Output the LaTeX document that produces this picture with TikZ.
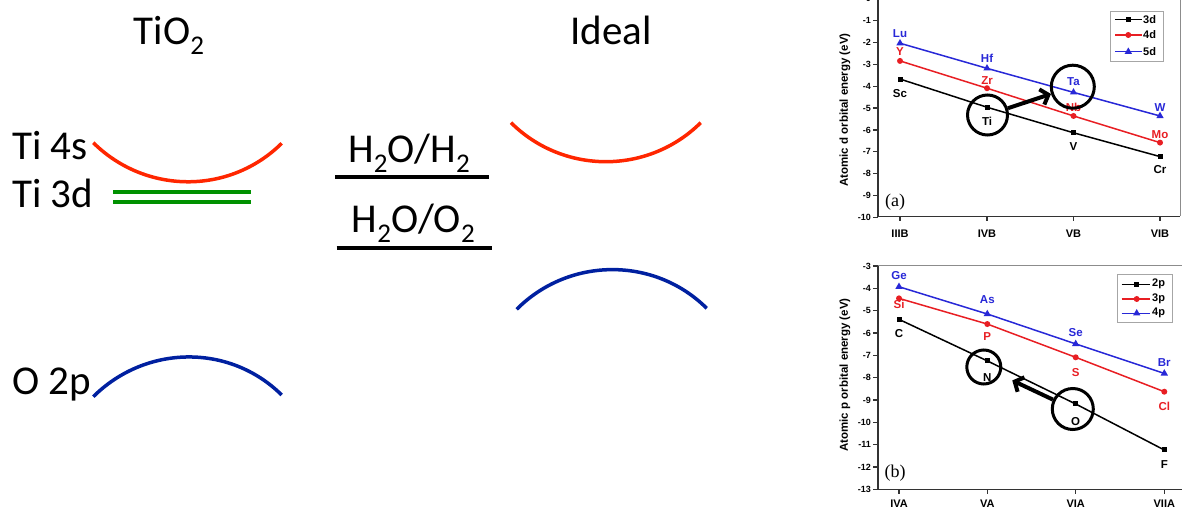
\documentclass[tikz,border=0pt]{standalone}
\usepackage{fontspec}
\setmainfont{Carlito}
\newfontfamily\plotfont{Liberation Sans}
\newfontfamily\plotserif{Liberation Serif}
\usepackage{tikz}
\usetikzlibrary{arrows.meta,positioning,calc,shapes.geometric}
\definecolor{bandred}{RGB}{255,38,0}
\definecolor{bandblue}{RGB}{0,32,160}
\definecolor{bandgreen}{RGB}{0,145,0}
\definecolor{ptred}{RGB}{232,30,35}
\definecolor{ptblue}{RGB}{40,40,215}
\newcommand{\dn}[1]{\raisebox{-10pt}{\fontsize{27}{27}\selectfont #1}}

\begin{document}
\begin{tikzpicture}[x=1pt,y=-1pt,
  big/.style={font=\fontsize{41}{48}\selectfont,inner sep=0pt},
  band/.style={line width=3.5pt},
  redox/.style={line width=4pt,black},
  axl/.style={line width=1.3pt,black!80},
  tlab/.style={font=\plotfont\bfseries\fontsize{9}{10}\selectfont,inner sep=0pt,anchor=east},
  catl/.style={font=\plotfont\bfseries\fontsize{11}{12}\selectfont,inner sep=0pt},
  ylab/.style={font=\plotfont\bfseries\fontsize{11.5}{13}\selectfont,inner sep=0pt,rotate=90},
  elab/.style={font=\plotfont\bfseries\fontsize{11.5}{13}\selectfont,inner sep=0pt},
  legt/.style={font=\plotfont\bfseries\fontsize{11}{12}\selectfont,inner sep=0pt,anchor=west},
  pan/.style={font=\plotserif\fontsize{18}{20}\selectfont,inner sep=0pt},
  sqm/.style={rectangle,fill=black,inner sep=0pt,minimum size=5pt},
  cim/.style={circle,fill=ptred,inner sep=0pt,minimum size=6pt},
  trm/.style={regular polygon,regular polygon sides=3,fill=ptblue,inner sep=0pt,minimum size=8.5pt},
  ring/.style={circle,draw,line width=3pt,inner sep=0pt},
  fat/.style={line width=4pt,-{Straight Barb[length=7pt,width=16pt]}},
  ser/.style={line width=1.5pt}]
  \useasboundingbox (0,0) rectangle (1182,510);

  % energy levels
  \node[big,anchor=base] (tio) at (169,45) {TiO\dn{2}};
  \node[big,anchor=base] (ideal) at (611,45) {Ideal};
  \node[big,anchor=base west] (ti4s) at (12,159.3) {Ti 4s};
  \node[big,anchor=base west] (ti3d) at (12,208) {Ti 3d};
  \node[big,anchor=base west] (o2p) at (12,394.3) {O 2p};
  \node[big,anchor=base] (hh) at (409,162.3) {H\dn{2}O/H\dn{2}};
  \node[big,anchor=base] (ho) at (413.3,232.7) {H\dn{2}O/O\dn{2}};
  \draw[redox] (335,176.7) -- (489.3,176.7);
  \draw[redox] (336.7,247.7) -- (491.7,247.7);
  \draw[band,bandred] (93.3,142.7) .. controls (145.5,194.4) and (229.5,195) .. (281.7,143.3);
  \draw[band,bandblue] (93.3,396.7) .. controls (145.5,344.7) and (229.5,343.3) .. (281.7,395);
  \draw[band,bandgreen,line width=4pt] (113.3,191.7) -- (250.7,191.7);
  \draw[band,bandgreen,line width=4pt] (113.3,201.7) -- (250.7,201.7);
  \draw[band,bandred] (511,122.7) .. controls (563.5,174.7) and (648.2,174.7) .. (700.7,122.7);
  \draw[band,bandblue] (516.7,309.3) .. controls (569,256.8) and (654.4,256.3) .. (706.7,308.3);

  % panel (a): d orbitals
  \draw[axl,black!45,line width=1pt] (878,-0.5) -- (1180,-0.5) -- (1180,216.5);
  \draw[axl] (878,-0.5) -- (878,216.5) -- (1180,216.5);
  \foreach \t in {0,-1,...,-10}{
    \draw[axl] (878,{-1.1-21.84*\t}) -- (873,{-1.1-21.84*\t});
    \node[tlab] at (871,{-1.1-21.84*\t}) {\t};
  }
  \foreach \xx/\tx in {900/IIIB,987/IVB,1073.5/VB,1160/VIB}{
    \draw[axl] (\xx,216.5) -- (\xx,221.5);
    \node[catl] at (\xx,233.3) {\tx};
  }
  \node[ylab] (ya) at (845,110) {Atomic d orbital energy (eV)};
  \node[pan] (pa) at (895,201.7) {(a)};
  \foreach \nm/\xx/\vv/\dy/\cl in {Sc/900/-3.67/14/black, Ti/987/-4.96/14.4/black,
      V/1073.5/-6.13/14/black, Cr/1160/-7.22/13/black,
      Y/900/-2.84/-9.5/ptred, Zr/987/-4.09/-8/ptred, Nb/1073.5/-5.36/-9/ptred, Mo/1160/-6.58/-8/ptred,
      Lu/900/-2.03/-10/ptblue, Hf/987/-3.18/-10/ptblue, Ta/1073.5/-4.28/-10.6/ptblue, W/1160/-5.36/-8/ptblue}{
    \pgfmathsetmacro\py{-1.1-21.84*\vv}
    \coordinate (a-\nm) at (\xx,\py);
    \node[elab,text=\cl] at (\xx,\py+\dy) {\nm};
  }
  \draw[ser,black] (a-Sc) -- (a-Ti) -- (a-V) -- (a-Cr);
  \draw[ser,ptred] (a-Y) -- (a-Zr) -- (a-Nb) -- (a-Mo);
  \draw[ser,ptblue] (a-Lu) -- (a-Hf) -- (a-Ta) -- (a-W);
  \foreach \nm in {Sc,Ti,V,Cr} \node[sqm] at (a-\nm) {};
  \foreach \nm in {Y,Zr,Nb,Mo} \node[cim] at (a-\nm) {};
  \foreach \nm in {Lu,Hf,Ta,W} \node[trm] at (a-\nm) {};
  \draw[line width=1pt,black!35] (1110,11.7) rectangle (1163,61.7);
  \foreach \yy/\cl/\mk/\tx in {19.3/black/sqm/3d,35/ptred/cim/4d,51.7/ptblue/trm/5d}{
    \draw[ser,\cl] (1115,\yy) -- (1141.7,\yy);
    \node[\mk] at (1128.3,\yy) {};
    \node[legt] at (1143,\yy) {\tx};
  }
  \node[ring,minimum size=40pt] (ringTi) at (987.5,115) {};
  \node[ring,minimum size=43pt] (ringTa) at (1072.8,86.7) {};
  \draw[fat] (ringTi) -- (ringTa);

  % panel (b): p orbitals
  \draw[axl,black!45,line width=1pt] (878,266) -- (1186,266);
  \draw[axl] (878,266) -- (878,489.3) -- (1186,489.3);
  \foreach \t in {-3,-4,...,-13}{
    \draw[axl] (878,{199-22.33*\t}) -- (873,{199-22.33*\t});
    \node[tlab] at (871,{199-22.33*\t}) {\t};
  }
  \foreach \xx/\tx in {899/IVA,987.3/VA,1075.7/VIA,1164.3/VIIA}{
    \draw[axl] (\xx,489.3) -- (\xx,494.3);
    \node[catl] at (\xx,503.3) {\tx};
  }
  \node[ylab] (yb) at (845,375) {Atomic p orbital energy (eV)};
  \node[pan] (pb) at (895,473.3) {(b)};
  \foreach \nm/\xx/\vv/\dy/\cl in {C/899/-5.39/14/black, N/987.3/-7.25/17/black,
      O/1075.7/-9.18/17.7/black, F/1164.3/-11.24/15/black,
      Si/899/-4.45/6.5/ptred, P/987.3/-5.6/12.7/ptred, S/1075.7/-7.09/15/ptred, Cl/1164.3/-8.63/15/ptred,
      Ge/899/-3.93/-11/ptblue, As/987.3/-5.15/-14/ptblue, Se/1075.7/-6.49/-11.7/ptblue, Br/1164.3/-7.81/-11/ptblue}{
    \pgfmathsetmacro\py{199-22.33*\vv}
    \coordinate (b-\nm) at (\xx,\py);
    \node[elab,text=\cl] at (\xx,\py+\dy) {\nm};
  }
  \draw[ser,black] (b-C) -- (b-N) -- (b-O) -- (b-F);
  \draw[ser,ptred] (b-Si) -- (b-P) -- (b-S) -- (b-Cl);
  \draw[ser,ptblue] (b-Ge) -- (b-As) -- (b-Se) -- (b-Br);
  \foreach \nm in {C,N,O,F} \node[sqm] at (b-\nm) {};
  \foreach \nm in {Si,P,S,Cl} \node[cim] at (b-\nm) {};
  \foreach \nm in {Ge,As,Se,Br} \node[trm] at (b-\nm) {};
  \draw[line width=1pt,black!35] (1117,275) rectangle (1172,322);
  \foreach \yy/\cl/\mk/\tx in {284.3/black/sqm/2p,299/ptred/cim/3p,313.3/ptblue/trm/4p}{
    \draw[ser,\cl] (1121.7,\yy) -- (1150,\yy);
    \node[\mk] at (1136.7,\yy) {};
    \node[legt] at (1152,\yy) {\tx};
  }
  \node[ring,minimum size=34pt] (ringN) at (983.8,367) {};
  \node[ring,minimum size=41pt] (ringO) at (1072.8,409) {};
  \draw[fat,shorten >=13pt] (ringO) -- (ringN);
\end{tikzpicture}
\end{document}
